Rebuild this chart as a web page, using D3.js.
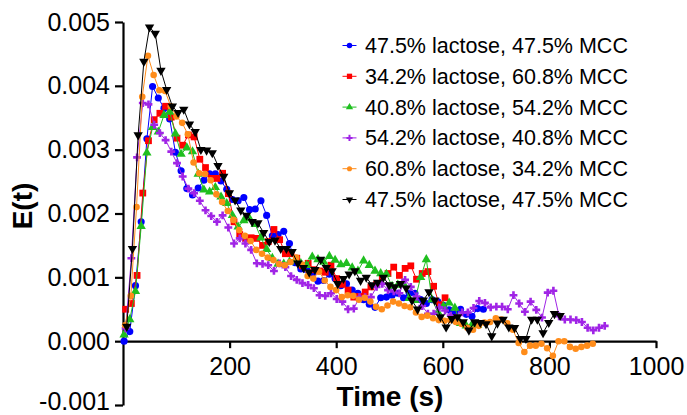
<!DOCTYPE html>
<html>
<head>
<meta charset="utf-8">
<script src="https://cdn.jsdelivr.net/npm/d3@7"></script>
<style>
  body { margin: 0; background: #fff; }
  text { font-family: "Liberation Sans", Arial, sans-serif; }
</style>
</head>
<body>
<div id="chart"></div>
<script>
// sampling times (s) shared by the runs; each run starts a few seconds later
const times = [
  0, 10.7, 21.4, 32.1, 42.8, 53.5, 64.2, 74.9, 85.6, 96.3,
  107, 117.7, 128.4, 139.1, 149.8, 160.5, 171.2, 181.9, 192.6, 203.3,
  214, 224.7, 235.4, 246.1, 256.8, 267.5, 278.2, 288.9, 299.6, 310.3,
  321, 331.7, 342.4, 353.1, 363.8, 374.5, 385.2, 395.9, 406.6, 417.3,
  428, 438.7, 449.4, 460.1, 470.8, 481.5, 492.2, 502.9, 513.6, 524.3,
  535, 545.7, 556.4, 567.1, 577.8, 588.5, 599.2, 609.9, 620.6, 631.3,
  642, 652.7, 663.4, 674.1, 684.8, 695.5, 706.2, 716.9, 727.6, 738.3,
  749, 759.7, 770.4, 781.1, 791.8, 802.5, 813.2, 823.9, 834.6, 845.3,
  856, 866.7, 877.4, 888.1, 898.8
];

const seriesNames = [
  "47.5% lactose, 47.5% MCC",
  "34.2% lactose, 60.8% MCC",
  "40.8% lactose, 54.2% MCC",
  "54.2% lactose, 40.8% MCC",
  "60.8% lactose, 34.2% MCC",
  "47.5% lactose, 47.5% MCC"
];
const seriesColors = ["#0000ff", "#ff0000", "#1fbf1f", "#a024e6", "#ff8c1a", "#000000"];
const startTimes = [2, 5, 2, 5, 4, 7];

// E(t) values, in units of 0.001
const blueE = [
  0.00, 0.15, 0.87, 1.87, 3.17, 3.99, 3.81, 3.65, 3.48, 2.96,
  2.67, 2.39, 2.29, 2.40, 2.52, 2.62, 2.62, 2.51, 2.38, 2.22,
  2.20, 2.25, 2.06, 2.07, 2.20, 1.97, 1.65, 1.67, 1.72, 1.53,
  1.23, 1.13, 1.12, 1.05, 0.94, 0.95, 1.05, 0.98, 0.87, 0.90,
  0.80, 0.75, 0.65, 0.58, 0.53, 0.68, 0.69, 0.72, 0.75, 0.68,
  0.75, 0.75, 0.65, 0.59, 0.65, 0.62, 0.56, 0.49, 0.43, 0.50,
  0.42, 0.39, 0.51, 0.50
];
const redE = [
  0.50, 0.59, 1.03, 2.32, 3.14, 3.47, 3.57, 3.68, 3.51, 3.18,
  3.07, 3.23, 3.20, 2.85, 2.72, 2.55, 2.55, 2.63, 2.31, 1.87,
  1.67, 1.61, 1.62, 1.61, 1.50, 1.56, 1.75, 1.59, 1.37, 1.37,
  1.30, 1.18, 1.22, 1.12, 1.10, 1.08, 1.19, 0.98, 0.89, 0.80,
  0.69, 0.70, 0.77, 0.85, 0.89, 1.01, 1.06, 1.16, 1.03, 1.14,
  1.18, 0.97, 1.06, 1.09, 0.86, 0.57, 0.68
];
const greenE = [
  0.10, 0.34, 0.78, 1.80, 2.95, 3.35, 3.28, 3.54, 3.59, 3.25,
  2.93, 3.03, 2.97, 2.62, 2.37, 2.34, 2.41, 2.26, 2.16, 1.97,
  1.79, 1.89, 1.92, 1.83, 1.62, 1.44, 1.30, 1.21, 1.21, 1.24,
  1.27, 1.22, 1.19, 1.32, 1.28, 1.24, 1.33, 1.27, 1.20, 1.22,
  1.15, 1.10, 1.26, 1.19, 1.10, 1.06, 1.05, 0.86, 0.88, 0.90,
  0.67, 0.64, 1.00, 1.28, 0.65, 0.46, 0.55, 0.60, 0.52, 0.28,
  0.24, 0.26, 0.25
];
const purpleE = [
  0.20, 1.30, 2.88, 3.73, 3.71, 3.39, 3.26, 3.15, 2.97, 2.79,
  2.58, 2.39, 2.32, 2.20, 2.05, 1.96, 1.87, 1.97, 1.78, 1.53,
  1.61, 1.53, 1.43, 1.22, 1.21, 1.19, 1.10, 1.22, 1.16, 1.02,
  0.96, 0.91, 0.88, 0.83, 0.72, 0.71, 0.75, 0.66, 0.62, 0.50,
  0.51, 0.69, 0.69, 0.69, 0.85, 0.90, 0.80, 0.78, 0.75, 0.96,
  0.85, 0.70, 0.55, 0.43, 0.43, 0.53, 0.48, 0.40, 0.37, 0.45,
  0.45, 0.52, 0.63, 0.60, 0.53, 0.54, 0.54, 0.50, 0.72, 0.59,
  0.46, 0.62, 0.49, 0.37, 0.76, 0.79, 0.39, 0.34, 0.34, 0.33,
  0.30, 0.21, 0.17, 0.21, 0.24
];
const orangeE = [
  0.25, 0.71, 2.10, 3.83, 4.47, 4.17, 3.93, 3.92, 3.68, 3.52,
  3.42, 3.24, 2.80, 2.63, 2.62, 2.52, 2.30, 2.18, 2.04, 1.90,
  1.74, 1.65, 1.57, 1.43, 1.37, 1.31, 1.27, 1.21, 1.19, 1.24,
  1.31, 1.20, 1.02, 0.98, 1.09, 0.95, 0.85, 0.80, 0.69, 0.72,
  0.71, 0.65, 0.68, 0.62, 0.54, 0.50, 0.56, 0.62, 0.59, 0.55,
  0.53, 0.45, 0.38, 0.40, 0.36, 0.33, 0.32, 0.33, 0.30, 0.27,
  0.21, 0.18, 0.24, 0.29, 0.30, 0.36, 0.34, 0.28, 0.18, -0.03,
  -0.17, -0.07, -0.07, -0.04, -0.11, -0.23, 0.00, 0.00, -0.09, -0.12,
  -0.09, -0.07, -0.04
];
const blackE = [
  0.23, 1.45, 3.23, 4.38, 4.92, 4.82, 4.24, 3.94, 3.68, 3.58,
  3.63, 3.40, 3.28, 3.00, 2.99, 2.95, 2.75, 2.58, 2.32, 2.21,
  2.05, 1.97, 1.87, 1.85, 1.70, 1.56, 1.58, 1.45, 1.45, 1.40,
  1.22, 1.15, 1.08, 1.12, 1.28, 1.15, 1.10, 0.90, 0.98, 1.05,
  1.10, 0.95, 1.00, 0.88, 0.92, 1.00, 0.88, 0.85, 0.90, 0.83,
  0.64, 0.50, 0.64, 0.77, 0.64, 0.38, 0.22, 0.35, 0.38, 0.30,
  0.17, 0.30, 0.29, 0.27, 0.08, 0.28, 0.34, 0.22, 0.21, 0.04,
  0.04, 0.34, 0.34, 0.13, 0.29, 0.43, 0.40
];

const xTicks = [200, 400, 600, 800, 1000];
const xTickLabels = ["200", "400", "600", "800", "1000"];
const yTicks = [-0.001, 0, 0.001, 0.002, 0.003, 0.004, 0.005];
const yTickLabels = ["-0.001", "0.000", "0.001", "0.002", "0.003", "0.004", "0.005"];

const allE = [blueE, redE, greenE, purpleE, orangeE, blackE];
const symbolTypes = [d3.symbolCircle, d3.symbolSquare, d3.symbolTriangle, d3.symbolCross, d3.symbolCircle, d3.symbolTriangle];
const symbolSizes = [40, 46, 38, 34, 34, 38];
const symbolRotate = [0, 0, 0, 0, 0, 180];

const width = 687, height = 415;
const svg = d3.select("#chart").append("svg")
  .attr("width", width)
  .attr("height", height);

const x = d3.scaleLinear().domain([0, 1000]).range([123, 656]);
const y = d3.scaleLinear().domain([-0.001, 0.005]).range([405, 22]);

// axes
const yAxis = svg.append("g")
  .attr("transform", `translate(${x(0)},0)`)
  .call(d3.axisLeft(y).tickValues(yTicks)
    .tickFormat((d, i) => yTickLabels[i])
    .tickSize(8).tickSizeOuter(0).tickPadding(5));

const xAxis = svg.append("g")
  .attr("transform", `translate(0,${y(0)})`)
  .call(d3.axisBottom(x).tickValues(xTicks)
    .tickFormat((d, i) => xTickLabels[i])
    .tickSize(7).tickSizeOuter(0).tickPadding(9));

[xAxis, yAxis].forEach(g => {
  g.select(".domain").attr("stroke", "#000").attr("stroke-width", 2.2);
  g.selectAll(".tick line").attr("stroke", "#000").attr("stroke-width", 2.2);
  g.selectAll(".tick text")
    .attr("fill", "#000")
    .attr("font-size", 25)
    .attr("font-family", '"Liberation Sans", Arial, sans-serif');
});
// keep the lowest label inside the picture
yAxis.selectAll(".tick text").filter((d, i) => i === 0).attr("dy", "0.16em");

// axis titles
svg.append("text")
  .attr("transform", "translate(32,206) rotate(-90)")
  .attr("text-anchor", "middle")
  .attr("font-size", 28)
  .attr("font-weight", "bold")
  .text("E(t)");

svg.append("text")
  .attr("x", 390)
  .attr("y", 406)
  .attr("text-anchor", "middle")
  .attr("font-size", 28)
  .attr("font-weight", "bold")
  .text("Time (s)");

// series
const line = d3.line()
  .x(d => x(d.t))
  .y(d => y(d.e));

const plotG = svg.append("g");
allE.forEach((vals, k) => {
  const pts = vals.map((v, i) => ({ t: times[i] + startTimes[k], e: v * 0.001 }));
  const g = plotG.append("g");
  g.append("path")
    .datum(pts)
    .attr("fill", "none")
    .attr("stroke", seriesColors[k])
    .attr("stroke-width", 1)
    .attr("d", line);
  g.selectAll("path.mark")
    .data(pts)
    .join("path")
      .attr("class", "mark")
      .attr("transform", d => `translate(${x(d.t)},${y(d.e)}) rotate(${symbolRotate[k]})`)
      .attr("fill", seriesColors[k])
      .attr("d", d3.symbol().type(symbolTypes[k]).size(symbolSizes[k]));
});

// legend
const legend = svg.append("g");
seriesNames.forEach((name, k) => {
  const cy = 45.5 + k * 30.8;
  legend.append("line")
    .attr("x1", 342.5).attr("x2", 356.5)
    .attr("y1", cy).attr("y2", cy)
    .attr("stroke", seriesColors[k])
    .attr("stroke-width", 1);
  legend.append("path")
    .attr("transform", `translate(349.5,${cy}) rotate(${symbolRotate[k]})`)
    .attr("fill", seriesColors[k])
    .attr("d", d3.symbol().type(symbolTypes[k]).size(symbolSizes[k] * 0.6));
  legend.append("text")
    .attr("x", 365)
    .attr("y", cy)
    .attr("dy", "0.35em")
    .attr("font-size", 21.5)
    .attr("fill", "#000")
    .text(name);
});
</script>
</body>
</html>
